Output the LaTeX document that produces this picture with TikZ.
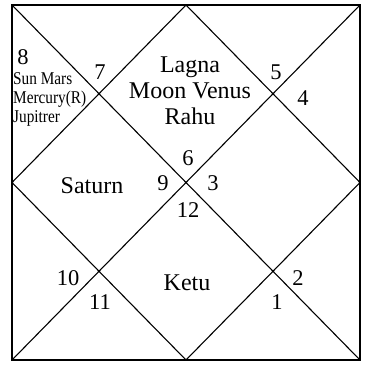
\documentclass[tikz,border=0pt]{standalone}
\usepackage{fontspec}
\setmainfont{Liberation Serif}
\newfontfamily\narrowserif[FakeStretch=0.85]{Liberation Serif}
\usetikzlibrary{positioning}

\begin{document}
\begin{tikzpicture}[x=1pt, y=-1pt,
        chartline/.style={draw, line width=1.1pt},
        housenum/.style={font=\fontsize{22.5}{24}\selectfont, inner sep=0pt},
        planet/.style={font=\fontsize{24}{26}\selectfont, align=center, inner sep=0pt},
        smallplanet/.style={font=\narrowserif\fontsize{18}{19}\selectfont, align=left, inner sep=0pt, anchor=west}]

        \useasboundingbox (0,0) rectangle (365,365);

        % corners and edge midpoints
        \coordinate (tl) at (12,5);
        \coordinate (tr) at (360,5);
        \coordinate (br) at (360,360);
        \coordinate (bl) at (12,360);
        \coordinate (tm) at (186,5);
        \coordinate (rm) at (360,182.5);
        \coordinate (bm) at (186,360);
        \coordinate (lm) at (12,182.5);

        \draw[chartline, line width=1.4pt] (tl) -- (tr) -- (br) -- (bl) -- cycle;
        \draw[chartline] (tl) -- (br);
        \draw[chartline] (tr) -- (bl);
        \draw[chartline] (tm) -- (rm) -- (bm) -- (lm) -- cycle;

        % house numbers
        \node (h1) [housenum] at (277,302) {1};
        \node (h2) [housenum] at (298,278) {2};
        \node (h3) [housenum] at (213,183) {3};
        \node (h4) [housenum] at (303,98) {4};
        \node (h5) [housenum] at (276,72) {5};
        \node (h6) [housenum] at (188,158) {6};
        \node (h7) [housenum] at (100,72) {7};
        \node (h8) [housenum] at (23,57) {8};
        \node (h9) [housenum] at (163,183) {9};
        \node (h10) [housenum] at (68,278) {10};
        \node (h11) [housenum] at (100,302) {11};
        \node (h12) [housenum] at (188,210) {12};

        % planets
        \node (lagna) [planet] at (190,91) {Lagna\\Moon Venus\\Rahu};
        \node (saturn) [planet] at (92,186) {Saturn};
        \node (ketu) [planet] at (187,283) {Ketu};
        \node (sun) [smallplanet] at (13,99) {Sun Mars\\Mercury(R)\\Jupitrer};
    \end{tikzpicture}
\end{document}
